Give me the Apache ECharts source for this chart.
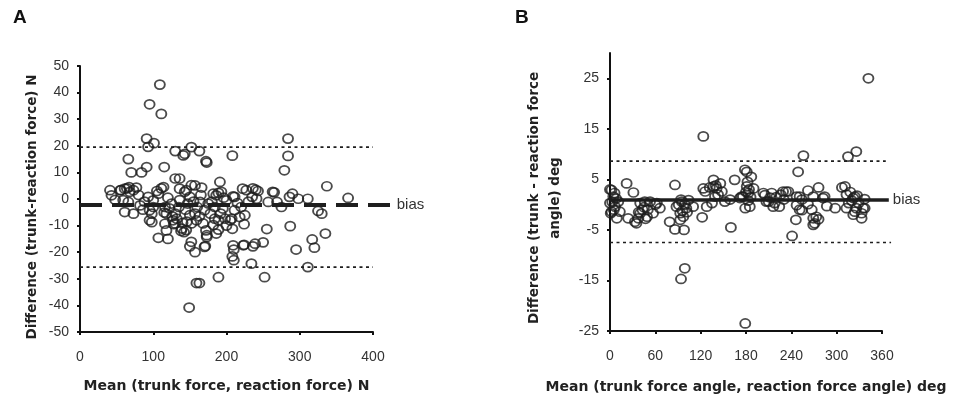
<!DOCTYPE html>
<html>
<head>
<meta charset="utf-8">
<script src="https://cdn.jsdelivr.net/npm/echarts/dist/echarts.min.js"></script>
<style>html,body{margin:0;padding:0;background:#fff}#c{width:955px;height:401px}</style>
</head>
<body>
<div id="c"></div>
<script>
// ---------- Panel A data: [mean force N, difference N] ----------
const pointsA = [
[109,43],[95,35.6],[111,32],[91,22.7],[93,19.6],[101,21],[91,12],[115,12],[66,15],[70,10],[84,10],
[130,7.7],[136,7.7],[130,18],[141,16.4],[143,17],[152,19.5],[163,18],[172,14.2],[173,13.7],[208,16.3],
[284,22.7],[284,16.2],[279,10.8],[191,6.4],[337,4.8],[366,0.4],[298,0.1],[311,0.1],[290,2],[265,2.5],
[257,-1.1],[269,-1.1],[275,-3],[325,-4.5],[330,-5.5],[287,-10.2],[255,-11.3],[250,-16.3],[236,-17.8],
[239,-16.8],[224,-17.2],[224,-9.5],[218,-6.8],[220,-3],[222,3.9],[227,3.3],[240,3.5],[243,3],[235,0.8],
[210,-19],[208,-21.6],[210,-23],[234,-24.3],[252,-29.4],[189,-29.4],[159,-31.6],[163,-31.6],[149,-40.8],
[150,-17.8],[157,-20],[171,-17.7],[173,-14.3],[172,-11.8],[186,-13],[189,-11.5],[184,-7.4],[205,-8],
[208,-11.2],[295,-19],[317,-15.2],[320,-18.3],[311,-25.6],[335,-13],[107,-14.6],[120,-15],[118,-11.8],
[116,-9.3],[115,-5.1],[98,-8.7],[95,-8],[98,-5.5],[100,-3],[61,-4.9],[73,-5.5],[82,-2.4],[86,-4],
[41,3.3],[43,1.4],[48,-0.3],[56,3.3],[61,3.9],[67,4.5],[73,3.3],[77,4.3],[66,-1.1],[93,0.8],[105,3],
[114,4.5],[100,-0.5],[136,3.9],[145,3.3],[157,5.1],[166,4.3],[182,2],[189,2.3],[209,1],[200,-0.5],
[55,3.3],[64,4],[68,2.7],[59,-0.4],[107,2],[111,4],[116,-3],[118,-5.5],[125,-1.7],[130,-5.5],[132,-7.4],
[130,-9.2],[136,-0.4],[139,-11.1],[145,-11.7],[95,-4.2],
[152,5.2],[143,2.7],[150,0.8],[164,-1.1],[186,1.4],[193,2.7],[236,4],[241,0.1],[263,2.7],[286,0.8],
[225,-6.1],[211,-4.2],[207,-7.4],[198,-7.4],[189,-8],[182,-9.8],[173,-13.6],[150,-6.1],[157,-5.5],
[170,-4.2],[175,-1.7],[211,0.8],[152,-16.1],[170,-18],[209,-17.4],[223,-17.4],[147,-1.7],[184,-3],
[195,-3.6],[159,-8],[168,-9.2],[152,-9.2],
[126,-6.5],[127,-8],[128,-9.5],[140,-9],[142,-12.5],[138,-12],[146,-8.5],[144,-4],[135,-3],[122,-3.5],
[160,-3],[163,-6.5],[178,-5.5],[180,-1],[192,-5.5],[200,-10],[215,-1.5],[230,-1],[196,0.5],[165,1.5],
[155,-1],[120,0.5],[88,-1],[80,1.5]
];
const biasA = -2.3, upperA = 19.5, lowerA = -25.6;
const biasExtentA = [0, 427], limitExtentA = [0, 400];

// ---------- Panel B data: [mean angle deg, difference deg] ----------
const pointsB = [
[342,25],[123.5,13.5],[326,10.5],[315,9.5],[256,9.7],[249,6.5],[181,6.5],[187,5.5],[165,4.9],[123.5,3.2],
[22,4.2],[0,3],[31,2.4],[86,3.9],[137,3.6],[141,3.2],[132,3.4],[148,2.6],[262,2.8],[276,3.4],[307,3.4],
[284,1.6],[251,1.6],[236,2.6],[229,2.6],[205,1.9],[324,1.6],[337,1.1],[179,-0.7],[122,-2.5],[79,-3.4],
[86,-4.9],[98,-5],[160,-4.5],[241,-6.2],[246,-3],[271,-3.7],[269,-2.7],[276,-2.9],[333,-2.7],[322,-2],
[298,-0.7],[99,-12.6],[94,-14.7],[179,-23.5],[9,-2.7],[1,-1.7],[24,-2.7],[33,-3.4],[40,-1.7],[62,0.3],
[66,-0.7],[57,-1.7],[93,-1.7],[97,-2.4],[110,-0.4],[128,-0.4],[152,0.6],[172,1.3],[210,0.6],[216,-0.4],
[247,-0.1],[254,-1.1],[262,0.1],[287,-0.3],[313,-0.7],[326,-0.7],[337,-0.7],
[2,2.9],[4.4,1.6],[11,0.6],[0,0.3],[6.6,-0.4],[13,-1.4],[2,-1.4],[35,-3.7],[40,0.3],[46,0.6],[53,0.6],
[60,0],[43,-1],[49,-2.4],[37.5,-2.7],[88,-0.4],[95,0.6],[104,0.9],[101,-0.7],[93,-3],[126,2.6],[135,0.3],
[139,1.6],[146,4.2],[137,4.9],[159,1],[174,1.6],
[178.6,6.9],[181,3.6],[183,2.3],[185,-0.4],[176,1.6],[190,3.2],[203,2.3],[207,0.6],[214,2.3],[218,0.3],
[233,2.6],[230,1],[224,-0.4],[247,1.6],[254,1],[269,1.6],[282,1.3],[251,-1],[267,-1],[273,-2.4],[269,-4],
[311,3.6],[313,2],[316,0.3],[322,1.3],[329,0.3],[335,-0.7],[324,-1.4],[333,-1.7],
[182,4.5],[184,3],[180,2.5],[186,1.5],[183,0.8],[143,2],[140,3.8],[3,0.5],[5,-1],[8,1.2],[6,2.3],
[45,-0.5],[50,-1],[38,-1.5],[47,-2.8],[91,0],[96,-1.2],[99,0],[102,-1.5],[94,1],[220,1.5],[226,2],
[212,1.4],[318,2.5],[320,0.8],[327,1.8]
];
const biasB = 0.9, upperB = 8.6, lowerB = -7.5;
const biasExtentB = [0, 369], upperExtentB = [0, 365], lowerExtentB = [0, 372];

const FONT = 'Liberation Sans, Arial, sans-serif';
const TFONT = 'DejaVu Sans, Liberation Sans, sans-serif';
const INK = '#1e1e1e';

// plot geometry
const gA = { left: 80, top: 66, width: 293, height: 266, xmax: 400 };
const gB = { left: 610, top: 53, width: 272, height: 278, xmax: 360 };
const OVA = 440, OVB = 400; // wider overlay ranges so reference lines can run past the axis end

function hline(gi, y, ext, style, label) {
  return {
    type: 'line', xAxisIndex: gi, yAxisIndex: gi, clip: false, silent: true,
    symbol: 'none', z: 1,
    data: [[ext[0], y], [ext[1], y]],
    lineStyle: style,
    endLabel: label ? { show: true, formatter: label, distance: 4, fontSize: 15, color: '#333', fontFamily: FONT } : { show: false }
  };
}
function axisBase() {
  return {
    axisLine: { show: true, onZero: false, lineStyle: { color: '#111', width: 2 } },
    axisTick: { show: true, length: 3, lineStyle: { color: '#111', width: 2 } },
    splitLine: { show: false },
    nameLocation: 'middle'
  };
}
function hiddenAxis(gi, min, max) {
  return { gridIndex: gi, type: 'value', min: min, max: max, show: false, splitLine: { show: false } };
}
const scatterStyle = { symbol: 'circle', symbolSize: [10, 9], z: 3,
  itemStyle: { color: 'rgba(0,0,0,0)', borderColor: INK, borderWidth: 1.8 } };
const tickLbl = (m, extra) => Object.assign({ fontSize: 14, color: '#333', fontFamily: FONT, margin: m }, extra || {});
const xName = { fontWeight: 'bold', fontSize: 14, color: '#222', fontFamily: TFONT };
const yNameA = { fontWeight: 'bold', fontSize: 13.5, color: '#222', fontFamily: TFONT, padding: [0, 16, 0, 0] };
const yNameB = { fontWeight: 'bold', fontSize: 13.5, lineHeight: 21, color: '#222', fontFamily: TFONT, padding: [0, 12, 0, 0] };

const dotted = { color: INK, width: 1.6, type: [3, 3.5] };
const letterStyle = { fontSize: 19, fontWeight: 'bold', color: '#111', fontFamily: FONT };
const option = {
  animation: false,
  title: [
    { text: 'A', left: 13, top: 8, padding: 0, textStyle: letterStyle },
    { text: 'B', left: 515, top: 8, padding: 0, textStyle: letterStyle }
  ],
  grid: [
    { left: gA.left, top: gA.top, width: gA.width, height: gA.height },
    { left: gB.left, top: gB.top, width: gB.width, height: gB.height },
    { left: gA.left, top: gA.top, width: gA.width * OVA / gA.xmax, height: gA.height },
    { left: gB.left, top: gB.top, width: gB.width * OVB / gB.xmax, height: gB.height }
  ],
  xAxis: [
    Object.assign(axisBase(), { gridIndex: 0, type: 'value', min: 0, max: gA.xmax, interval: 100,
      name: 'Mean (trunk force, reaction force) N', nameGap: 47,
      axisLabel: tickLbl(18), nameTextStyle: xName }),
    Object.assign(axisBase(), { gridIndex: 1, type: 'value', min: 0, max: gB.xmax, interval: 60,
      name: 'Mean (trunk force angle, reaction force angle) deg', nameGap: 49,
      axisLabel: tickLbl(18), nameTextStyle: xName }),
    hiddenAxis(2, 0, OVA),
    hiddenAxis(3, 0, OVB)
  ],
  yAxis: [
    Object.assign(axisBase(), { gridIndex: 0, type: 'value', min: -50, max: 50, interval: 10,
      name: 'Difference (trunk-reaction force) N', nameGap: 41,
      axisLabel: tickLbl(11), nameTextStyle: yNameA }),
    Object.assign(axisBase(), { gridIndex: 1, type: 'value', min: -25, max: 30, interval: 10,
      name: 'Difference (trunk - reaction force\nangle) deg', nameGap: 44,
      axisLabel: tickLbl(11, { showMaxLabel: false }), nameTextStyle: yNameB }),
    hiddenAxis(2, -50, 50),
    hiddenAxis(3, -25, 30)
  ],
  series: [
    hline(0, upperA, limitExtentA, dotted),
    hline(0, lowerA, limitExtentA, dotted),
    Object.assign({ type: 'scatter', xAxisIndex: 0, yAxisIndex: 0, data: pointsA }, scatterStyle),
    Object.assign(hline(2, biasA, biasExtentA, { color: INK, width: 4, type: [22, 10], cap: 'butt' }, 'bias'), { z: 4 }),
    hline(3, biasB, biasExtentB, { color: INK, width: 3.5 }, 'bias'),
    hline(3, upperB, upperExtentB, dotted),
    hline(3, lowerB, lowerExtentB, dotted),
    Object.assign({ type: 'scatter', xAxisIndex: 1, yAxisIndex: 1, data: pointsB }, scatterStyle)
  ]
};
const chart = echarts.init(document.getElementById('c'), null, { renderer: 'canvas' });
chart.setOption(option);
</script>
</body>
</html>
